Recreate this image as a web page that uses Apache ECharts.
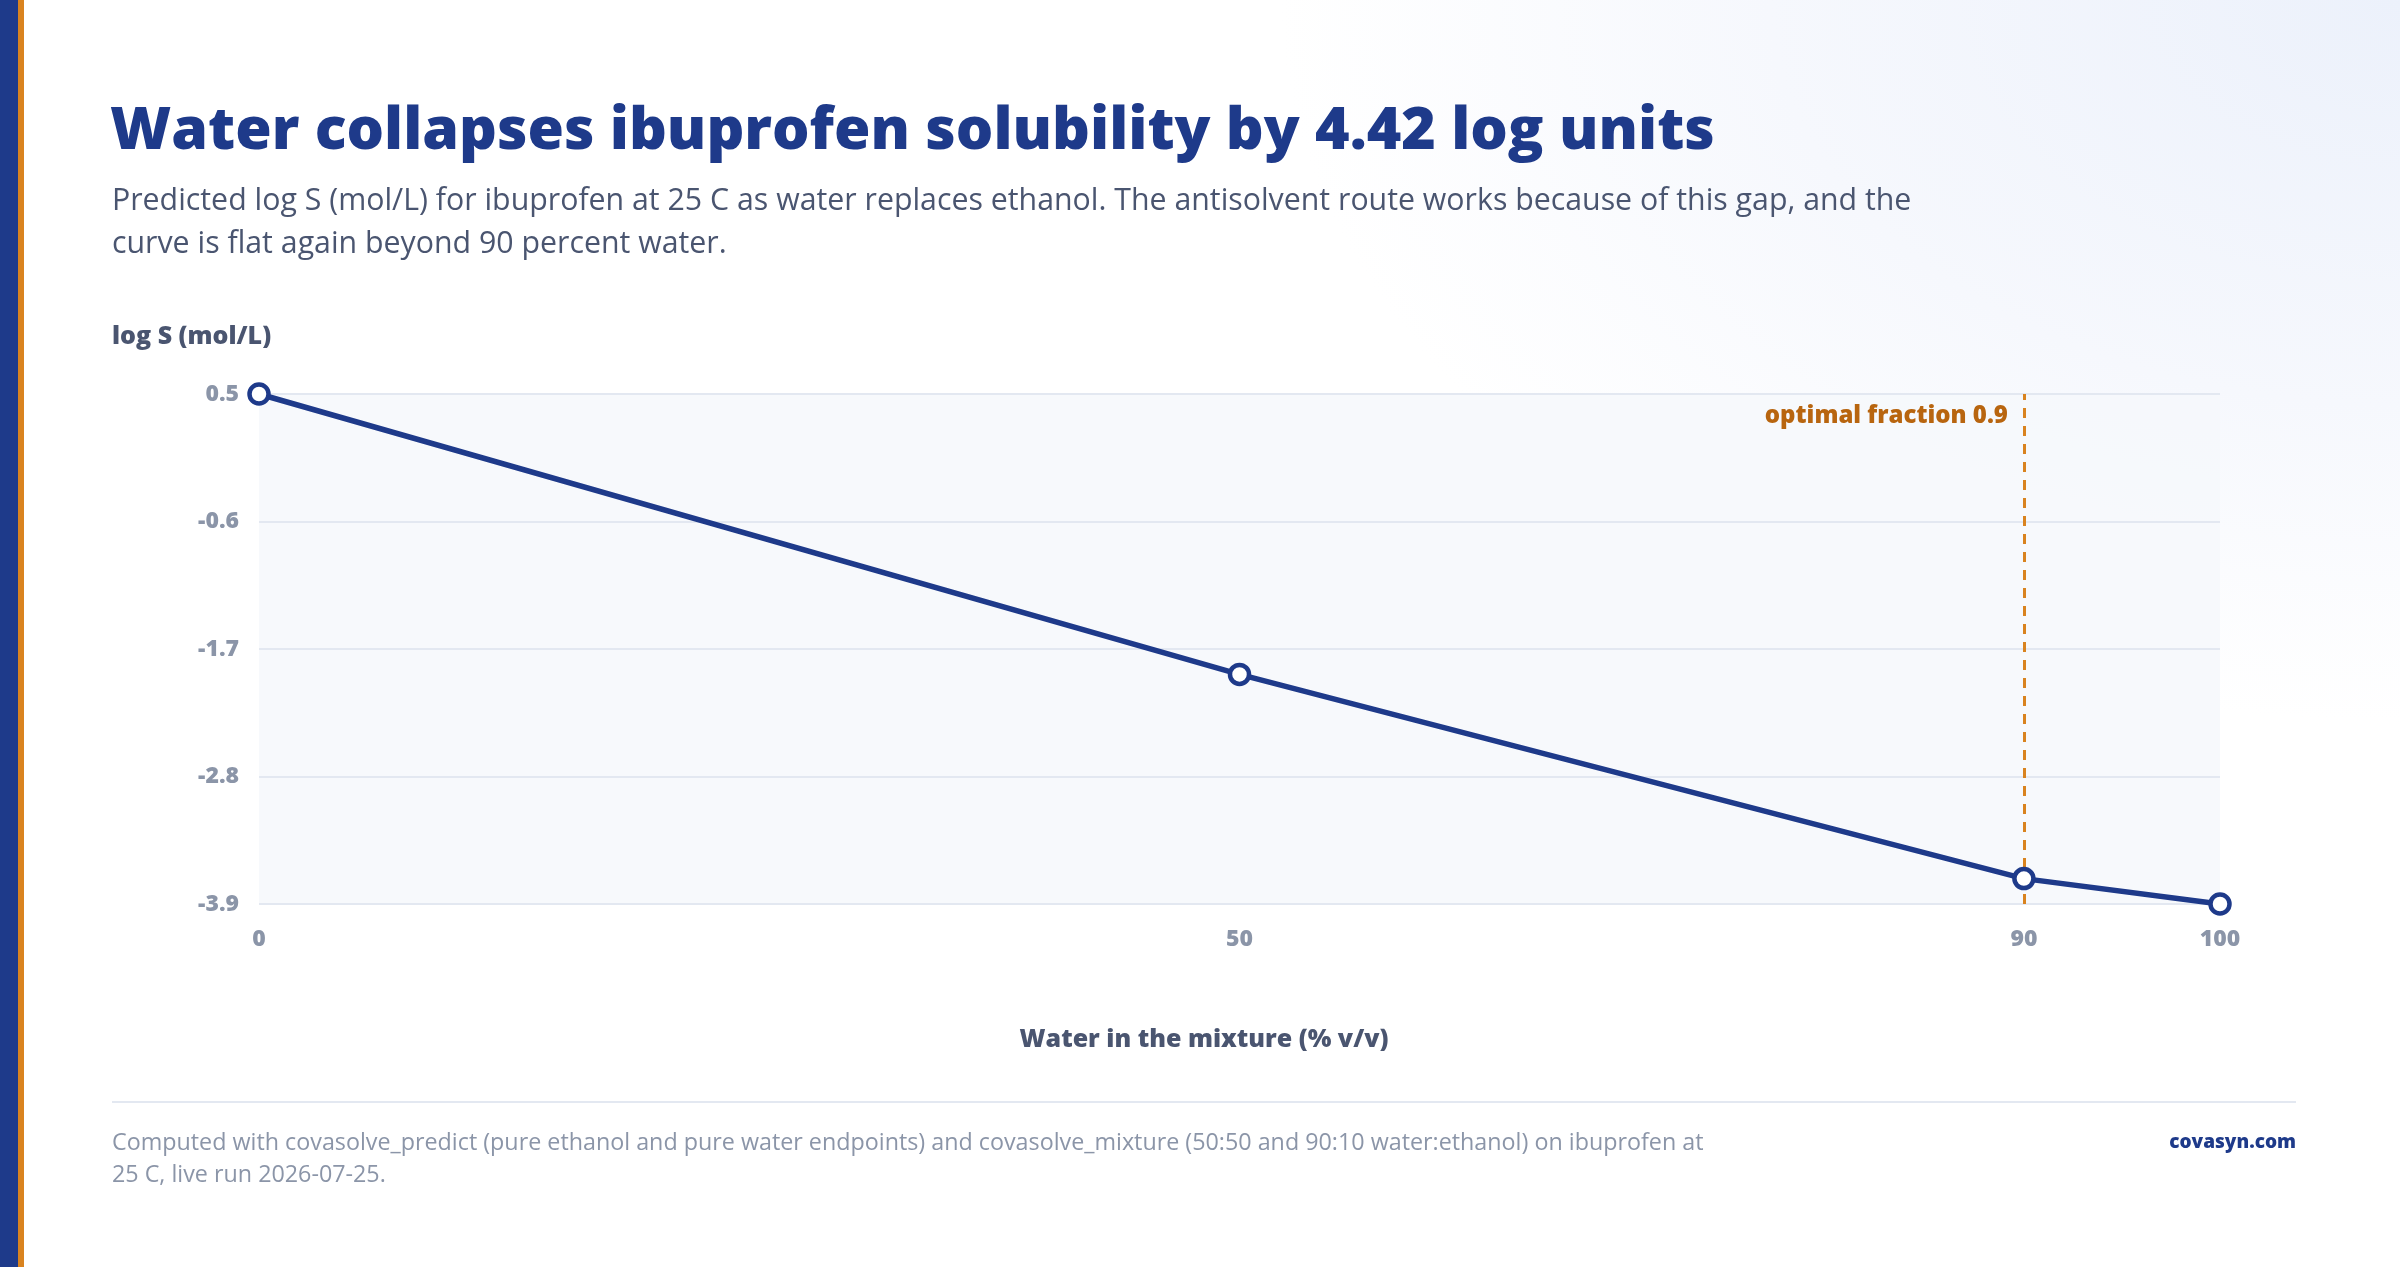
<!DOCTYPE html>
<html>
<head>
<meta charset="utf-8">
<title>Water collapses ibuprofen solubility</title>
<script src="https://cdn.jsdelivr.net/npm/echarts@6/dist/echarts.min.js"></script>
<style>
  html, body { margin: 0; padding: 0; }
  body {
    width: 2400px; height: 1267px; overflow: hidden;
    background: radial-gradient(ellipse 1400px 900px at 100% 0%, #ecf1fb 0%, #f6f8fd 45%, #ffffff 80%);
  }
  #chart { width: 2400px; height: 1267px; }
</style>
</head>
<body>
<div id="chart"></div>
<script>
// ---- data ----
const waterPct = [0, 50, 90, 100];
const logS = [0.5, -1.93, -3.70, -3.92];
const xTickValues = [0, 50, 90, 100];
const optimalWater = 90;

const NAVY = '#1e3a8a';
const ORANGE = '#d9831f';
const ORANGE_DARK = '#b8650f';
const SLATE = '#4a5570';
const MUTED = '#8b95a8';
const FONT = '"Open Sans", "Noto Sans", sans-serif';

const chart = echarts.init(document.getElementById('chart'), null, { renderer: 'canvas' });

const yMin = Math.min(...logS);
const yMax = Math.max(...logS);

const option = {
  backgroundColor: 'transparent',
  animation: false,
  grid: {
    left: 259, right: 180, top: 394, bottom: 363,
    show: true, backgroundColor: 'rgba(246,248,252,0.85)', borderWidth: 0
  },
  xAxis: {
    type: 'value',
    min: 0, max: 100,
    axisLine: { show: false },
    axisTick: { show: false },
    splitLine: { show: false },
    axisLabel: {
      customValues: xTickValues,
      margin: 24,
      fontSize: 23, fontWeight: 800, color: MUTED, fontFamily: FONT
    }
  },
  yAxis: {
    type: 'value',
    min: yMin, max: yMax,
    interval: (yMax - yMin) / 4,
    axisLine: { show: false },
    axisTick: { show: false },
    splitLine: { lineStyle: { color: '#e3e8f1', width: 2 } },
    axisLabel: {
      margin: 20,
      fontSize: 23, fontWeight: 800, color: MUTED, fontFamily: FONT,
      formatter: v => v.toFixed(1)
    }
  },
  series: [{
    type: 'line',
    data: waterPct.map((x, i) => [x, logS[i]]),
    symbol: 'circle',
    symbolSize: 19,
    lineStyle: { color: NAVY, width: 5.5 },
    itemStyle: { color: '#ffffff', borderColor: NAVY, borderWidth: 4.5 },
    z: 5,
    markLine: {
      silent: true,
      symbol: 'none',
      lineStyle: { color: ORANGE, width: 3, type: [10, 8] },
      label: { show: false },
      data: [{ xAxis: optimalWater }],
      z: 3
    }
  }],
  graphic: [
    // left accent stripes
    { type: 'rect', left: 0, top: 0, shape: { width: 18, height: 1267 }, style: { fill: '#1e3a8a' } },
    { type: 'rect', left: 18, top: 0, shape: { width: 6, height: 1267 }, style: { fill: '#d9831f' } },
    {
      type: 'text', x: 110, y: 132,
      style: { text: 'Water collapses ibuprofen solubility by 4.42 log units', fill: NAVY,
        font: '800 59px ' + FONT, verticalAlign: 'middle' }
    },
    {
      type: 'text', x: 112, y: 201,
      style: {
        text: 'Predicted log S (mol/L) for ibuprofen at 25 C as water replaces ethanol. The antisolvent route works because of this gap, and the',
        fill: SLATE, font: '30.3px ' + FONT, verticalAlign: 'middle'
      }
    },
    {
      type: 'text', x: 112, y: 244,
      style: { text: 'curve is flat again beyond 90 percent water.', fill: SLATE, font: '30.3px ' + FONT, verticalAlign: 'middle' }
    },
    {
      type: 'text', x: 112, y: 337,
      style: { text: 'log S (mol/L)', fill: SLATE, font: '800 25px ' + FONT, verticalAlign: 'middle' }
    },
    {
      type: 'text', x: 1204, y: 1040,
      style: { text: 'Water in the mixture (% v/v)', fill: SLATE, font: '800 25px ' + FONT,
        align: 'center', verticalAlign: 'middle' }
    },
    { type: 'rect', left: 112, top: 1101, shape: { width: 2184, height: 2 }, style: { fill: '#e3e8f1' } },
    {
      type: 'text', x: 112, y: 1143,
      style: {
        text: 'Computed with covasolve_predict (pure ethanol and pure water endpoints) and covasolve_mixture (50:50 and 90:10 water:ethanol) on ibuprofen at',
        fill: MUTED, font: '23.3px ' + FONT, verticalAlign: 'middle'
      }
    },
    {
      type: 'text', x: 112, y: 1175,
      style: { text: '25 C, live run 2026-07-25.', fill: MUTED, font: '23.3px ' + FONT, verticalAlign: 'middle' }
    },
    {
      type: 'text', x: 2296, y: 1143,
      style: { text: 'covasyn.com', fill: NAVY, font: '800 19px ' + FONT, align: 'right', verticalAlign: 'middle' }
    }
  ]
};

chart.setOption(option);

// label for the optimal-fraction marker, placed through the axis scale
const markX = chart.convertToPixel({ xAxisIndex: 0 }, optimalWater);
chart.setOption({
  graphic: option.graphic.concat([{
    type: 'text', x: markX - 16, y: 416,
    style: { text: 'optimal fraction 0.9', fill: ORANGE_DARK, font: '800 24px ' + FONT,
      align: 'right', verticalAlign: 'middle' }
  }])
});
</script>
</body>
